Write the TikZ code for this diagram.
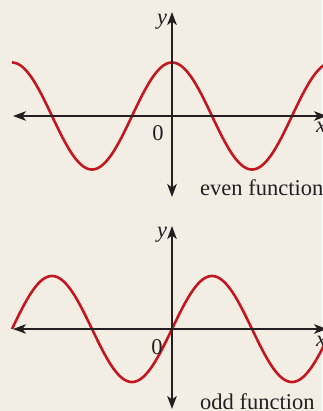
\documentclass[tikz,border=0pt]{standalone}
\usepackage{fontspec}
\setmainfont{Liberation Serif}
\usetikzlibrary{arrows.meta}
\definecolor{bgc}{HTML}{F2EEE4}
\definecolor{wavec}{HTML}{C3161F}
\definecolor{axisc}{HTML}{231F20}
\begin{document}
\begin{tikzpicture}[x=1pt,y=-1pt,
  tip/.style={Stealth[length=13pt,width=9.5pt,inset=3.5pt]},
  axisline/.style={draw=axisc, line width=1.9pt, {Stealth[length=13pt,width=9.5pt,inset=3.5pt]}-{Stealth[length=13pt,width=9.5pt,inset=3.5pt]}},
  wave/.style={draw=wavec, line width=2.6pt},
  lbl/.style={font=\fontsize{22.5}{26}\selectfont, text=axisc, inner sep=0pt},
  ilbl/.style={lbl, font=\fontsize{22.5}{26}\selectfont\itshape}]
\fill[bgc] (0,0) rectangle (322,411);
\useasboundingbox (0,0) rectangle (322,411);
% top graph: even function
\coordinate (tL) at (13,116);
\coordinate (tR) at (327,116);
\coordinate (tT) at (172,12);
\coordinate (tB) at (172,197);
\draw[wave] plot[domain=12:324, samples=200, smooth] (\x, {116-53.5*cos(2.25*(\x-172))});
\draw[axisline] (tL) -- (tR);
\draw[axisline] (tB) -- (tT);
\node[ilbl] (ty) at (162,22) {y};
\node[ilbl] (tx) at (321,127) {x};
\node[lbl] (t0) at (158,133) {0};
\node[lbl, anchor=base west] (tlab) at (200,196) {even function};
% bottom graph: odd function
\coordinate (bL) at (13,329);
\coordinate (bR) at (327,329);
\coordinate (bT) at (172,226);
\coordinate (bB) at (172,409);
\draw[wave] plot[domain=12:324, samples=200, smooth] (\x, {329-53*sin(2.25*(\x-172))});
\draw[axisline] (bL) -- (bR);
\draw[axisline] (bB) -- (bT);
\node[ilbl] (by) at (162,235) {y};
\node[ilbl] (bx) at (321,341) {x};
\node[lbl] (b0) at (157,347) {0};
\node[lbl, anchor=base west] (blab) at (200,409) {odd function};
\end{tikzpicture}
\end{document}
